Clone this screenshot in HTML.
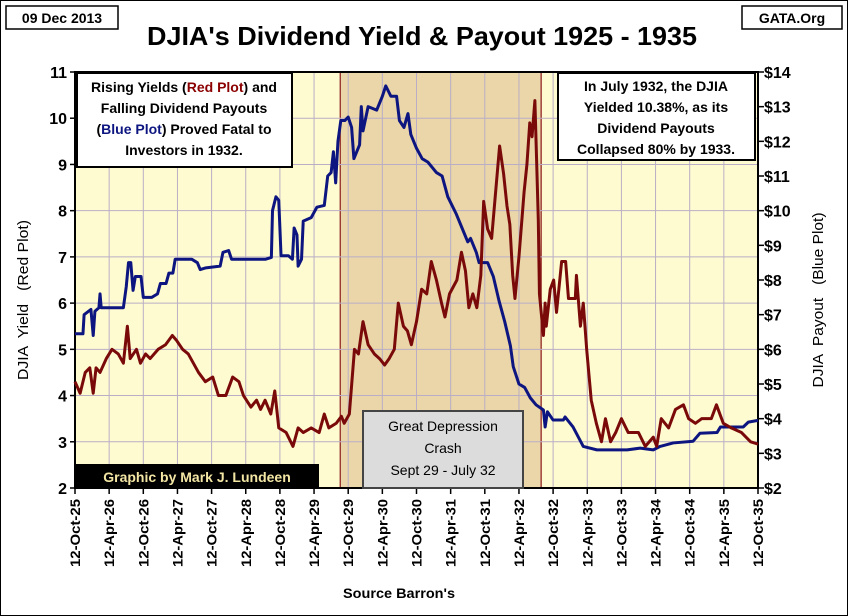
<!DOCTYPE html>
<html><head><meta charset="utf-8"><style>
html,body{margin:0;padding:0;background:#fff}
svg{display:block;font-family:"Liberation Sans",sans-serif}
</style></head><body>
<svg id="chart" width="848" height="616" viewBox="0 0 848 616">
<rect x="0.5" y="0.5" width="847" height="615" fill="#fff" stroke="#000"/>
<rect x="6" y="6" width="112" height="23" fill="#fff" stroke="#000" stroke-width="1.5"/>
<text x="62" y="23" font-size="14" font-weight="bold" text-anchor="middle">09 Dec 2013</text>
<rect x="742" y="6" width="100" height="23" fill="#fff" stroke="#000" stroke-width="1.5"/>
<text x="792" y="23" font-size="14" font-weight="bold" text-anchor="middle">GATA.Org</text>
<text x="422" y="45" font-size="26" font-weight="bold" text-anchor="middle" textLength="550" lengthAdjust="spacingAndGlyphs">DJIA's Dividend Yield &amp; Payout 1925 - 1935</text>
<g id="plot"></g>
<text transform="translate(28,300) rotate(-90)" font-size="15" text-anchor="middle" textLength="160" lengthAdjust="spacingAndGlyphs" xml:space="preserve">DJIA  Yield   (Red Plot)</text>
<text transform="translate(823,300) rotate(-90)" font-size="15" text-anchor="middle" textLength="175" lengthAdjust="spacingAndGlyphs" xml:space="preserve">DJIA  Payout   (Blue Plot)</text>
<text x="399" y="598" font-size="14" font-weight="bold" text-anchor="middle" textLength="112" lengthAdjust="spacingAndGlyphs">Source Barron's</text>
</svg>
<script>
const xTickLabels=["12-Oct-25","12-Apr-26","12-Oct-26","12-Apr-27","12-Oct-27","12-Apr-28","12-Oct-28","12-Apr-29","12-Oct-29","12-Apr-30","12-Oct-30","12-Apr-31","12-Oct-31","12-Apr-32","12-Oct-32","12-Apr-33","12-Oct-33","12-Apr-34","12-Oct-34","12-Apr-35","12-Oct-35"];
const leftTicks=[2,3,4,5,6,7,8,9,10,11];
const rightTicks=[2,3,4,5,6,7,8,9,10,11,12,13,14];
// months since Oct 1925
const redMonths=[0,0.9,1.8,2.6,3.2,3.7,4.4,5.5,6.5,7.6,8.5,9.2,9.7,10.8,11.5,12.4,13.2,14.6,15.9,17.1,17.8,18.9,19.9,20.8,21.7,22.9,24.2,25.2,26.5,27.7,28.8,29.6,30.9,31.9,32.6,33.4,34.4,35.1,35.8,37.1,38.3,39.2,40.1,41.5,42.9,43.8,44.6,45.9,46.8,47.3,48.2,49.1,49.8,50.6,51.5,52.6,53.5,54.4,55.2,56.1,56.8,57.7,58.4,59.1,60,60.9,61.8,62.6,63.5,64.4,65,65.8,67.1,67.9,68.6,69.2,69.9,70.6,71.3,71.8,72.5,73.2,73.9,74.6,75.3,75.9,76.4,76.9,77.3,78,78.9,79.4,79.9,80.3,80.8,81.1,81.4,81.6,82.3,82.6,82.8,83.5,84.1,84.6,85.5,86.2,86.7,87.9,88.1,88.8,89.3,89.9,90.7,91.6,92.5,93.2,94.1,95,96,97.2,99,100.2,101.6,102.2,103,104.3,105.5,106.9,107.8,109,110.1,111.8,112.7,113.9,115.3,117.1,118.7,120];
const redYield=[4.3,4.05,4.5,4.6,4.05,4.6,4.5,4.8,5.0,4.9,4.7,5.5,4.8,5.0,4.7,4.9,4.8,5.0,5.1,5.3,5.2,5.0,4.9,4.7,4.5,4.3,4.4,4.0,4.0,4.4,4.3,4.0,3.75,3.9,3.7,3.9,3.6,4.1,3.3,3.2,2.9,3.3,3.2,3.3,3.2,3.6,3.3,3.4,3.55,3.4,3.6,5.0,4.9,5.6,5.1,4.9,4.8,4.66,4.8,5.0,6.0,5.5,5.4,5.1,5.6,6.3,6.2,6.9,6.5,6.0,5.7,6.2,6.5,7.1,6.7,5.9,6.2,5.9,6.6,8.2,7.6,7.4,8.4,9.4,8.8,8.1,7.7,6.6,6.1,7.0,8.4,9.0,9.9,9.6,10.38,9.1,7.8,6.2,5.3,6.0,5.5,6.3,6.5,5.8,6.9,6.9,6.1,6.1,6.6,5.5,6.0,5.0,3.9,3.4,3.0,3.5,3.0,3.2,3.5,3.2,3.2,2.9,3.1,2.9,3.5,3.3,3.7,3.8,3.5,3.4,3.5,3.5,3.8,3.4,3.3,3.2,3.0,2.95];
const blueMonths=[0,1.4,1.6,2.8,3.2,3.5,4.2,4.4,4.6,8.5,9.0,9.4,9.8,10.2,10.6,11.6,12,13.5,14.5,15,16,16.5,17.2,17.6,19,20.5,21.5,22,23,25.5,26,27,27.5,31.5,33.5,34.5,34.7,35.3,35.8,36.2,37.5,38.2,38.5,39,39.2,39.8,40.1,41.5,42.5,43.8,44.4,45,45.4,45.8,46.2,46.7,47.4,48,48.6,49,50,50.3,50.6,51.5,53,54,54.6,55.5,56.5,57,57.8,58.5,59,60,61,62,63.5,64.5,65.5,67,68,69,69.5,70.5,71,72.5,73.5,74.5,75.5,76.5,77,78,79,80,81,82.3,82.6,83,84,85.8,86.1,87.5,89.3,91.7,97,99.3,101.6,102.8,105.1,108.6,109.8,112.8,113.4,117.4,118.3,120];
const bluePayout=[6.45,6.45,7.0,7.15,6.4,7.1,7.2,7.6,7.2,7.2,7.8,8.5,8.5,7.7,8.1,8.1,7.5,7.5,7.6,7.9,7.9,8.2,8.2,8.6,8.6,8.6,8.5,8.3,8.35,8.4,8.8,8.85,8.6,8.6,8.6,8.65,10.0,10.4,10.3,8.7,8.7,8.6,9.5,9.3,8.4,8.6,9.7,9.8,10.1,10.15,11.0,11.1,11.7,10.8,12.0,12.6,12.6,12.7,12.4,11.5,11.9,13.0,12.3,13.0,12.9,13.3,13.6,13.3,13.3,12.6,12.4,12.8,12.2,11.8,11.5,11.4,11.1,11.0,10.4,9.9,9.5,9.1,9.2,8.8,8.5,8.5,8.1,7.4,6.8,6.1,5.5,5.0,4.9,4.6,4.4,4.25,3.76,4.2,3.96,3.96,4.05,3.76,3.2,3.1,3.1,3.15,3.1,3.2,3.3,3.35,3.58,3.6,3.76,3.76,3.9,3.95];
const crashStart=46.6, crashEnd=81.9;

const NS="http://www.w3.org/2000/svg";
const L=75,R=758,T=72,B=488;
const xS=m=>L+(R-L)*m/120;
const yL=v=>B-(B-T)*(v-2)/9;
const yR=v=>B-(B-T)*(v-2)/12;
const g=document.getElementById('plot');
function mk(tag,attrs,parent){const e=document.createElementNS(NS,tag);for(const k in attrs)e.setAttribute(k,attrs[k]);(parent||g).appendChild(e);return e;}

const bg=mk('rect',{x:L,y:T,width:R-L,height:B-T,fill:'#fffbd0'});


const sh=mk('rect',{x:xS(crashStart),y:T,width:xS(crashEnd)-xS(crashStart),height:B-T,fill:'#ead6a8',stroke:'#8b1a1a','stroke-width':1.2});



for(let i=0;i<xTickLabels.length;i++){
  const x=xS(i*6);
  if(i>0&&i<xTickLabels.length-1){const gl=mk('line',{x1:x,x2:x,y1:T,y2:B,stroke:'#b9aec6','stroke-width':1});
  
  }
  const tk=mk('line',{x1:x,x2:x,y1:B,y2:B+6,stroke:'#000','stroke-width':1.5});
  
  
  const t=mk('text',{transform:`translate(${x+5},${B+11}) rotate(-90)`,'font-size':14,'font-weight':'bold','text-anchor':'end',textLength:68,lengthAdjust:'spacingAndGlyphs'});
  t.textContent=xTickLabels[i];
  
  
}
for(const v of leftTicks){
  const y=yL(v);
  if(v>2&&v<11){const gl=mk('line',{x1:L,x2:R,y1:y,y2:y,stroke:'#b9aec6','stroke-width':1});
  
  }
  const tk=mk('line',{x1:L-5,x2:L,y1:y,y2:y,stroke:'#000','stroke-width':1.5});
  
  
  const t=mk('text',{x:L-8,y:y+6,'font-size':16,'font-weight':'bold','text-anchor':'end'});
  t.textContent=v;
  
  
}
for(const v of rightTicks){
  const y=yR(v);
  const tk=mk('line',{x1:R,x2:R+6,y1:y,y2:y,stroke:'#000','stroke-width':1.5});
  
  
  const t=mk('text',{x:R+6,y:y+6,'font-size':16,'font-weight':'bold'});
  t.textContent='$'+v;
  
  
}
const ax=mk('rect',{x:L,y:T,width:R-L,height:B-T,fill:'none',stroke:'#000','stroke-width':2});



const blue=mk('polyline',{points:blueMonths.map((m,i)=>xS(m)+','+yR(bluePayout[i])).join(' '),fill:'none',stroke:'#0d1580','stroke-width':3,'stroke-linejoin':'round'});


const red=mk('polyline',{points:redMonths.map((m,i)=>xS(m)+','+yL(redYield[i])).join(' '),fill:'none',stroke:'#7a0a0a','stroke-width':3,'stroke-linejoin':'round'});



function box(x,y,w,h,fill,stroke,name){const r=mk('rect',{x,y,width:w,height:h,fill,stroke,'stroke-width':2});}
function txt(x,y,html,attrs,name){const t=mk('text',Object.assign({x,y,'text-anchor':'middle'},attrs));t.innerHTML=html;}
box(77,73,215,94,'#fff','#000','left-annotation-box');
const la={'font-size':14,'font-weight':'bold'};
txt(184,92,'Rising Yields (<tspan fill="#8b0000">Red Plot</tspan>) and',la,'annotation-line');
txt(184,113,'Falling Dividend Payouts',la,'annotation-line');
txt(184,134,'(<tspan fill="#0d1580">Blue Plot</tspan>) Proved Fatal to',la,'annotation-line');
txt(184,155,'Investors in 1932.',la,'annotation-line');
box(558,73,197,87,'#fff','#000','right-annotation-box');
txt(656,91,'In July 1932, the DJIA',la,'annotation-line');
txt(656,112,'Yielded 10.38%, as its',la,'annotation-line');
txt(656,133,'Dividend Payouts',la,'annotation-line');
txt(656,154,'Collapsed  80% by 1933.',la,'annotation-line');
box(363,411,160,77,'#dcdcdc','#444','crash-label-box');
const ca={'font-size':14};
txt(443,431,'Great Depression',ca,'crash-label-line');
txt(443,453,'Crash',ca,'crash-label-line');
txt(443,475,'Sept 29 - July 32',ca,'crash-label-line');
box(76,465,242,23,'#000','#000','credit-box');
txt(197,482,'Graphic by Mark J. Lundeen',{'font-size':14,'font-weight':'bold',fill:'#f3e6a4'},'credit-label');
</script>
</body></html>
